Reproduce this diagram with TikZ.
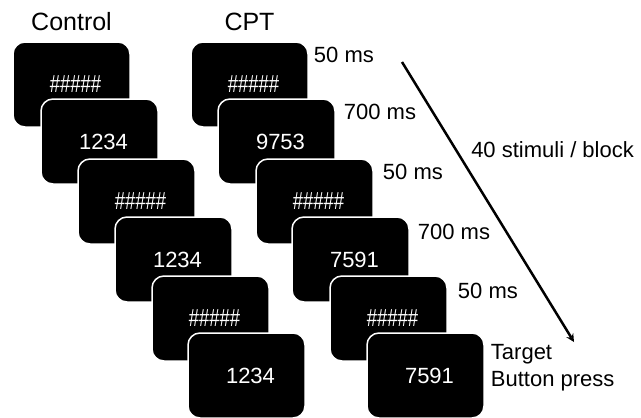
\documentclass[tikz,border=0pt]{standalone}
\usepackage{fontspec}
\setmainfont{Liberation Sans}
\usetikzlibrary{positioning}
\tikzset{>=stealth}
\tikzset{
  screen/.style={draw=white, fill=black, line width=1.5pt, rounded corners=12pt,
    minimum width=117pt, minimum height=85pt, inner sep=0pt, text=white, font=\fontsize{22}{26}\selectfont},
  lbl/.style={inner sep=0pt, font=\fontsize{22}{27}\selectfont},
  head/.style={inner sep=0pt, font=\fontsize{25}{29}\selectfont}
}
\newcommand{\mask}{\scalebox{0.84}[1.12]{\#\#\#\#\#}}

\begin{document}
\begin{tikzpicture}[x=1pt, y=-1pt]
    \useasboundingbox (0,0) rectangle (641,418);
    % control block
    \foreach \i/\x/\y/\t in {1/71.5/84.5/\mask, 2/99.5/141.5/1234, 3/136.5/201.5/\mask,
                             4/173.5/259.5/1234, 5/210.5/318.5/\mask, 6/246.5/375.5/1234}
        \node[screen] (c\i) at (\x,\y) {\hspace*{8pt}\raisebox{-3pt}{\t}};
    % CPT block
    \foreach \i/\x/\y/\t in {1/249.5/84.5/\mask, 2/276.5/141.5/9753, 3/314.5/201.5/\mask,
                             4/350.5/259.5/7591, 5/388.5/318.5/\mask, 6/425.5/375.5/7591}
        \node[screen] (p\i) at (\x,\y) {\hspace*{8pt}\raisebox{-3pt}{\t}};
    \node[head, above=10pt of c1.north] (ctrl) {Control};
    \node[head, above=10pt of p1.north] (cpt) {CPT};
    % durations
    \node[lbl, anchor=west, right=5pt of p1.north east, yshift=-14pt] (d1) {50 ms};
    \node[lbl, anchor=west, right=8pt of p2.north east, yshift=-14pt] (d2) {700 ms};
    \node[lbl, anchor=west, right=9pt of p3.north east, yshift=-14pt] (d3) {50 ms};
    \node[lbl, anchor=west, right=8pt of p4.north east, yshift=-16pt] (d4) {700 ms};
    \node[lbl, anchor=west, right=10pt of p5.north east, yshift=-16pt] (d5) {50 ms};
    \node[lbl, anchor=west, align=left, right=6pt of p6.north east, yshift=-35pt] (d6) {Target\\Button press};
    % time arrow
    \coordinate (t0) at (402,62);
    \coordinate (t1) at (574,342);
    \draw[->, line width=2.5pt] (t0) -- (t1) node[lbl, pos=0.314, right=14pt] (blk) {40 stimuli / block};
\end{tikzpicture}
\end{document}
